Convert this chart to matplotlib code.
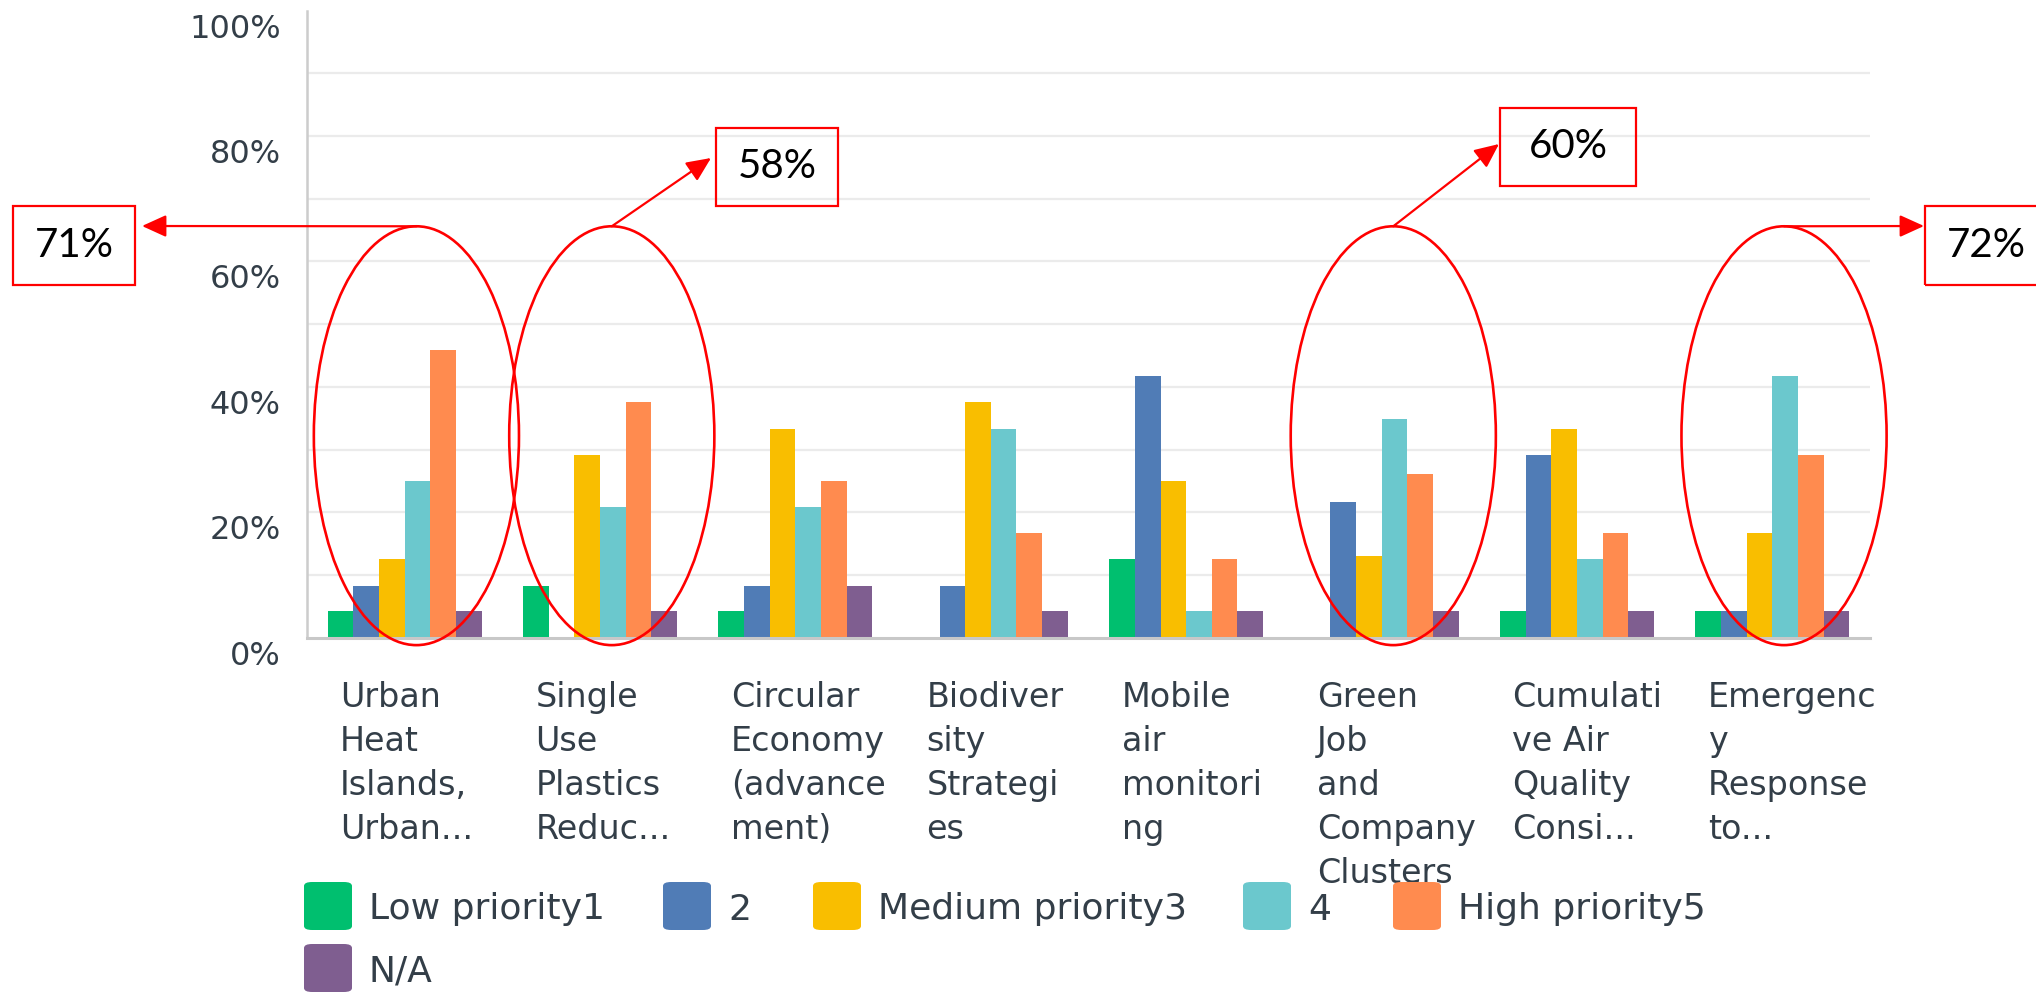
import numpy as np
import matplotlib.pyplot as plt
from matplotlib.patches import Ellipse, Rectangle, FancyBboxPatch
from matplotlib.transforms import ScaledTranslation, blended_transform_factory

W, H, DPI = 2036, 992, 100

# data (percent of respondents)
categories = ["Urban\nHeat\nIslands,\nUrban...",
              "Single\nUse\nPlastics\nReduc...",
              "Circular\nEconomy\n(advance\nment)",
              "Biodiver\nsity\nStrategi\nes",
              "Mobile\nair\nmonitori\nng",
              "Green\nJob\nand\nCompany\nClusters",
              "Cumulati\nve Air\nQuality\nConsi...",
              "Emergenc\ny\nResponse\nto..."]
series = ["Low priority1", "2", "Medium priority3", "4", "High priority5", "N/A"]
colors = ["#00bf6f", "#507cb6", "#f9be00", "#6bc8cd", "#ff8b4f", "#7f5e90"]

low1 = [4.2, 8.3, 4.2, 0.0, 12.5, 0.0, 4.2, 4.2]
two = [8.3, 0.0, 8.3, 8.3, 41.7, 21.7, 29.2, 4.2]
med3 = [12.5, 29.2, 33.3, 37.5, 25.0, 13.0, 33.3, 16.7]
four = [25.0, 20.8, 20.8, 33.3, 4.2, 34.8, 12.5, 41.7]
high5 = [45.8, 37.5, 25.0, 16.7, 12.5, 26.1, 16.7, 29.2]
na = [4.2, 4.2, 8.3, 4.2, 4.2, 4.3, 4.2, 4.2]
values = [low1, two, med3, four, high5, na]

yticks = [0, 20, 40, 60, 80, 100]
ytick_labels = ["0%", "20%", "40%", "60%", "80%", "100%"]

# red call-outs (group index, text)
hl_groups = [0, 1, 5, 7]
hl_text = ["71%", "58%", "60%", "72%"]

txt_color = "#333e48"

fig = plt.figure(figsize=(W / DPI, H / DPI), dpi=DPI)
ax = fig.add_axes([307 / W, 1 - 637.6 / H, 1563 / W, 627 / H])

x = np.arange(len(categories))
bw = 0.1313
for j, (vals, c) in enumerate(zip(values, colors)):
    ax.bar(x + (j - 2.5) * bw, vals, width=bw, color=c, zorder=2)

ax.set_xlim(-0.5, len(categories) - 0.5)
ax.set_ylim(0, 100)
for v in range(10, 100, 10):
    ax.axhline(v, color="#ebebeb", lw=1.6, zorder=0)

for s in ["top", "right"]:
    ax.spines[s].set_visible(False)
ax.spines["left"].set_color("#cccccc")
ax.spines["left"].set_linewidth(1.8)
ax.spines["bottom"].set_color("#c8c8c8")
ax.spines["bottom"].set_linewidth(2.2)

ax.set_xticks([])
ax.set_yticks(yticks)
ax.set_yticklabels(ytick_labels)
ax.tick_params(axis="y", length=0, pad=19, labelsize=23, labelcolor=txt_color)
offset = ScaledTranslation(0, -0.15, fig.dpi_scale_trans)
for lab in ax.yaxis.get_majorticklabels():
    lab.set_transform(lab.get_transform() + offset)

# category labels under the groups
tr = blended_transform_factory(ax.transData, fig.transFigure)
for i, cat in enumerate(categories):
    ax.text(i - 0.33, 1 - 681 / H, cat, transform=tr, ha="left", va="top",
            fontsize=24, color=txt_color, linespacing=1.42)

# legend, drawn by hand to keep the row order
leg_x = [304, 663, 813, 1243, 1393, 304]
leg_y = [906, 906, 906, 906, 906, 968]
for name, c, lx, ly in zip(series, colors, leg_x, leg_y):
    p = FancyBboxPatch((lx / W, 1 - (ly + 24) / H), 48 / W, 48 / H,
                       boxstyle="round,pad=0,rounding_size=0.004",
                       transform=fig.transFigure, color=c, lw=0)
    fig.patches.append(p)
    fig.text((lx + 65) / W, 1 - ly / H, name, ha="left", va="center_baseline",
             fontsize=26, color=txt_color)

# ellipses + arrows + boxes
arrow_to = [(142, 226), (711, 158), (1499, 144), (1924, 226)]
boxes = [(13, 206, 135, 285), (716, 128, 838, 206),
         (1500, 108, 1636, 186), (1925, 206, 2045, 285)]
for g, t, (ax_, ay_), (bx0, by0, bx1, by1) in zip(hl_groups, hl_text, arrow_to, boxes):
    e = Ellipse((g + 0.06, 32.2), 1.05, 66.8, fill=False, edgecolor="red",
                lw=1.9, clip_on=False, zorder=5)
    ax.add_patch(e)
    ax.annotate("", xy=(ax_, H - ay_), xycoords="figure pixels",
                xytext=(g + 0.06, 65.6), textcoords="data",
                arrowprops=dict(arrowstyle="-|>,head_length=0.55,head_width=0.25",
                                color="red", lw=1.6, shrinkA=0, shrinkB=0,
                                mutation_scale=27),
                annotation_clip=False)
    r = Rectangle((bx0 / W, 1 - by1 / H), (bx1 - bx0) / W, (by1 - by0) / H,
                  transform=fig.transFigure, fill=False, edgecolor="red", lw=1.6)
    fig.patches.append(r)
    fig.text((bx0 + bx1) / 2 / W if bx1 < W else 1986 / W, 1 - (by0 + by1) / 2 / H, t,
             ha="center", va="center", fontsize=29, family="Lato", color="black")

fig.savefig("out.png", dpi=DPI)
